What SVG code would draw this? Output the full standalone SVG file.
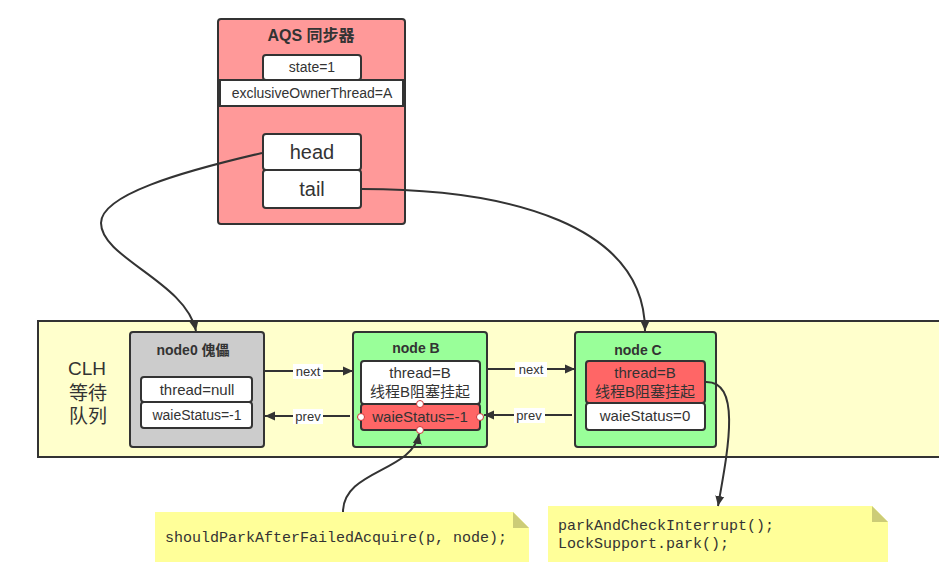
<svg xmlns="http://www.w3.org/2000/svg" width="939" height="578" viewBox="0 0 939 578">
<style>
.t{font-family:"Liberation Sans","Noto Sans CJK SC",sans-serif;fill:#333;text-anchor:middle}
.b{font-weight:bold}
.m{font-family:"Liberation Mono","DejaVu Sans Mono",monospace;fill:#333;font-size:15px}
.box{stroke:#333;stroke-width:2}
.w{fill:#fff}
.conn{fill:none;stroke:#333;stroke-width:2}
.lbl{fill:#fff}
.dot{fill:#fff;stroke:#c33;stroke-width:1}
</style>
<defs>
<marker id="ah" markerUnits="userSpaceOnUse" markerWidth="10" markerHeight="10" refX="10" refY="5" orient="auto">
<path d="M0,0.5 L10,5 L0,9.5 z" fill="#333"/>
</marker>
</defs>
<rect width="939" height="578" fill="#fff"/>

<g id="clh">
<rect x="38" y="321" width="920" height="136" fill="#ffffcc" class="box"/>
<text class="t" x="87" y="375" font-size="19">CLH</text>
<text class="t" x="88" y="400" font-size="19">等待</text>
<text class="t" x="88" y="423" font-size="19">队列</text>
</g>

<g id="aqs">
<rect x="218" y="19" width="187" height="205" rx="3" fill="#ff9999" class="box"/>
<text class="t b" x="311" y="41" font-size="16">AQS 同步器</text>
<rect x="263" y="55" width="98" height="25" rx="3" class="box w"/>
<text class="t" x="312" y="72" font-size="14">state=1</text>
<rect x="220" y="80" width="183" height="26" class="box w"/>
<text class="t" x="312" y="98" font-size="14">exclusiveOwnerThread=A</text>
<rect x="263" y="134" width="98" height="36" rx="3" class="box w"/>
<text class="t" x="312" y="159" font-size="20">head</text>
<rect x="263" y="170" width="98" height="38" rx="3" class="box w"/>
<text class="t" x="312" y="196" font-size="20">tail</text>
</g>

<g id="node0">
<rect x="130" y="332" width="134" height="115" rx="3" fill="#cccccc" class="box"/>
<text class="t b" x="193" y="355" font-size="14">node0 傀儡</text>
<rect x="141" y="377" width="111" height="25" rx="3" class="box w"/>
<text class="t" x="197" y="395" font-size="15">thread=null</text>
<rect x="141" y="402" width="111" height="26" rx="3" class="box w"/>
<text class="t" x="197" y="420" font-size="14">waieStatus=-1</text>
</g>

<g id="nodeB">
<rect x="353" y="332" width="134" height="115" rx="3" fill="#99ff99" class="box"/>
<text class="t b" x="416" y="353" font-size="14">node B</text>
<rect x="361" y="361" width="119" height="43" rx="3" class="box w"/>
<text class="t" x="420" y="378" font-size="15">thread=B</text>
<text class="t" x="420" y="397" font-size="15">线程B阻塞挂起</text>
<rect x="361" y="404" width="119" height="26" rx="3" fill="#ff6666" class="box"/>
<text class="t" x="420" y="422" font-size="15">waieStatus=-1</text>
<circle cx="420" cy="404" r="3.5" class="dot"/>
<circle cx="420" cy="430" r="3.5" class="dot"/>
<circle cx="361" cy="417" r="3.5" class="dot"/>
<circle cx="480" cy="417" r="3.5" class="dot"/>
</g>

<g id="nodeC">
<rect x="575" y="332" width="141" height="115" rx="3" fill="#99ff99" class="box"/>
<text class="t b" x="638" y="355" font-size="14">node C</text>
<rect x="586" y="361" width="119" height="42" rx="3" fill="#ff6666" class="box"/>
<text class="t" x="645" y="378" font-size="15">thread=B</text>
<text class="t" x="645" y="397" font-size="15">线程B阻塞挂起</text>
<rect x="586" y="403" width="119" height="27" rx="3" class="box w"/>
<text class="t" x="645" y="421" font-size="15">waieStatus=0</text>
</g>

<g id="note1">
<polygon points="155,512 513,512 529,528 529,562 155,562" fill="#ffff99"/>
<polygon points="513,512 529,528 513,528" fill="#cccc77"/>
<text class="m" x="165" y="542">shouldParkAfterFailedAcquire(p, node);</text>
</g>

<g id="note2">
<polygon points="548,506 872,506 888,522 888,562 548,562" fill="#ffff99"/>
<polygon points="872,506 888,522 872,522" fill="#cccc77"/>
<text class="m" x="558" y="530">parkAndCheckInterrupt();</text>
<text class="m" x="558" y="548">LockSupport.park();</text>
</g>

<g id="connectors">
<path class="conn" d="M262,153 C180,172 101,195 101,223 C101,258 186,282 196,331" marker-end="url(#ah)"/>
<path class="conn" d="M362,189 C510,189 645,225 645,331" marker-end="url(#ah)"/>
<path class="conn" d="M265,371 L353,371" marker-end="url(#ah)"/>
<path class="conn" d="M350,416 L265,416" marker-end="url(#ah)"/>
<path class="conn" d="M487,369 L575,369" marker-end="url(#ah)"/>
<path class="conn" d="M572,415 L484,415" marker-end="url(#ah)"/>
<path class="conn" d="M343,512 C343,470 412,472 419,434" marker-end="url(#ah)"/>
<path class="conn" d="M705,382 C742,380 728,450 718,506" marker-end="url(#ah)"/>
<rect x="293" y="364" width="30" height="15" class="lbl"/>
<text class="t" x="308" y="376" font-size="13">next</text>
<rect x="293" y="409" width="30" height="15" class="lbl"/>
<text class="t" x="308" y="421" font-size="13">prev</text>
<rect x="515" y="362" width="32" height="15" class="lbl"/>
<text class="t" x="531" y="374" font-size="13">next</text>
<rect x="514" y="408" width="31" height="15" class="lbl"/>
<text class="t" x="529" y="420" font-size="13">prev</text>
</g>
</svg>
